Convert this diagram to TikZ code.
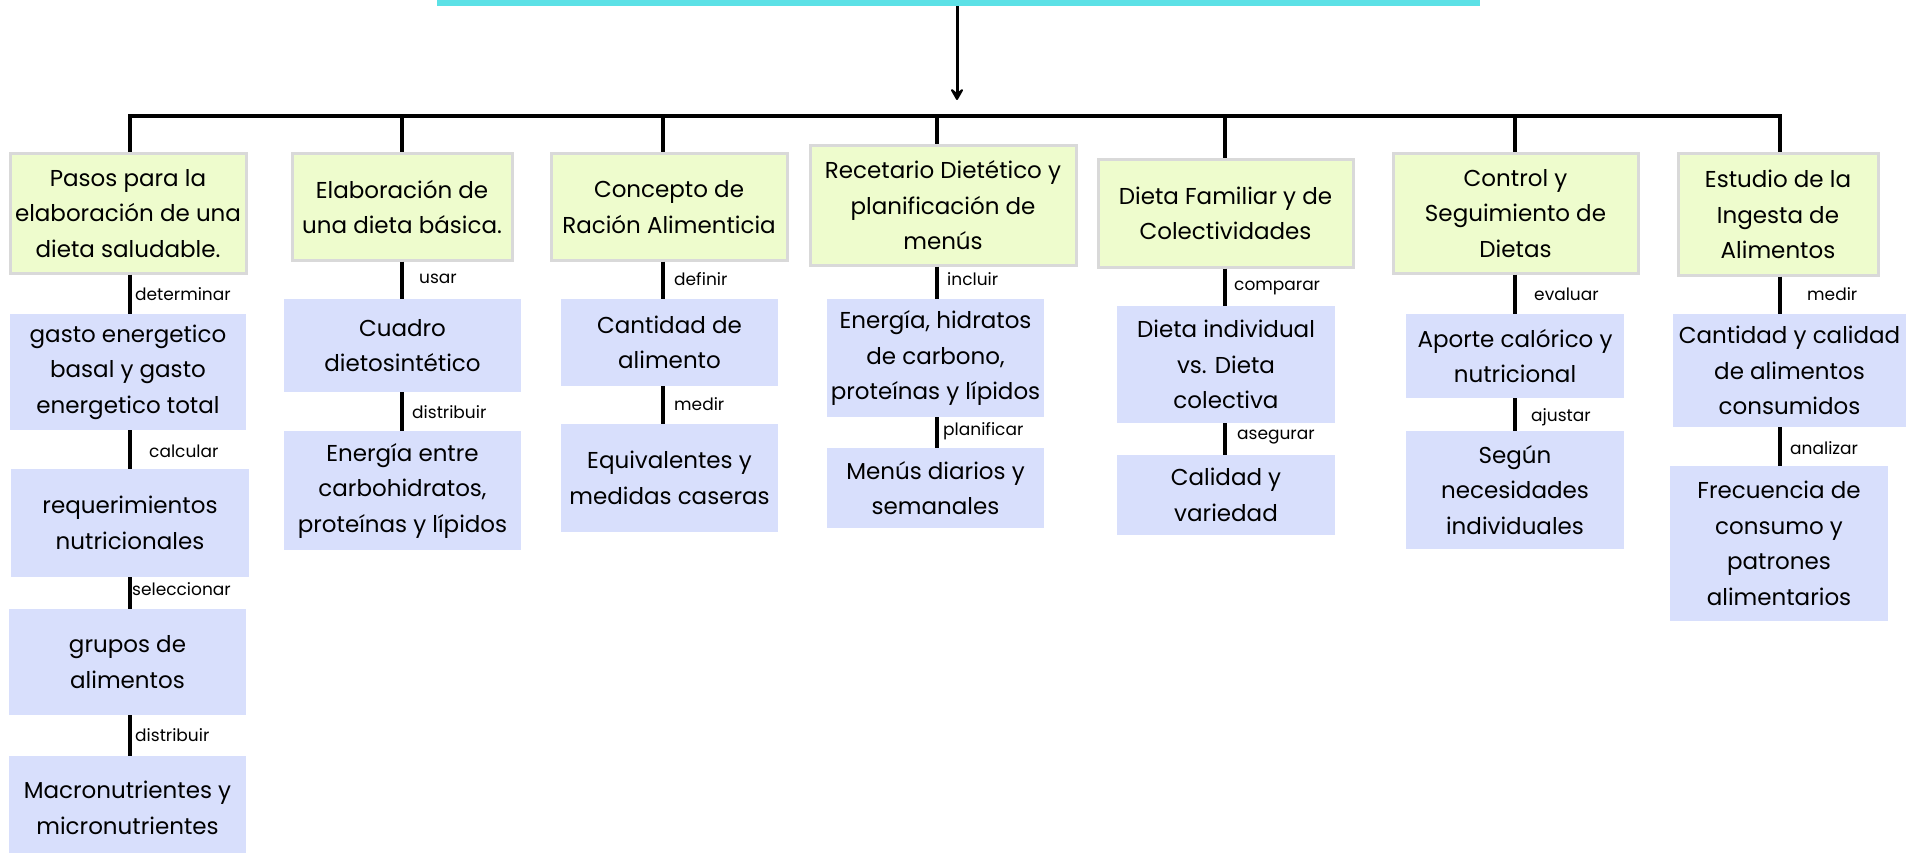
\documentclass[tikz,border=0pt]{standalone}
\usepackage{fontspec}
\setmainfont{Poppins}
\usetikzlibrary{arrows.meta}
\definecolor{gfill}{RGB}{238,252,205}
\definecolor{gborder}{RGB}{217,217,217}
\definecolor{bfill}{RGB}{216,223,252}
\definecolor{cyanbar}{RGB}{92,225,230}
\tikzset{
  gbox/.style={draw=gborder, line width=3pt, fill=gfill, align=center, inner sep=2pt,
    font=\fontsize{23}{35.5}\selectfont},
  bbox/.style={fill=bfill, align=center, inner sep=2pt,
    font=\fontsize{23}{35.5}\selectfont},
  lab/.style={anchor=west, inner sep=0pt, font=\fontsize{17}{20}\selectfont},
  conn/.style={line width=3.5pt},
  hbar/.style={line width=4pt, line cap=rect},
}
\begin{document}
\begin{tikzpicture}[x=1pt,y=-1pt]
\useasboundingbox (0,0) rectangle (1921,853);
% title bar and arrow
\node[fill=cyanbar, minimum width=1043pt, minimum height=14pt, inner sep=0pt] (title) at (958.5,-1) {};
\coordinate (tip) at (957,100);
\draw[line width=3pt, -{Stealth[length=15pt,width=17pt,inset=7pt,round]}] (title.south -| tip) -- (tip);
% bar
\coordinate (t1) at (130,116);
\coordinate (t2) at (402,116);
\coordinate (t3) at (663,116);
\coordinate (t4) at (937,116);
\coordinate (t5) at (1225,116);
\coordinate (t6) at (1515,116);
\coordinate (t7) at (1780,116);
\draw[hbar] (t1) -- (t7);

% column 1
\node[gbox, minimum width=236pt, minimum height=119pt] (G1) at (128,213.5) {Pasos para la\\elaboración de una\\dieta saludable.};
\node[bbox, minimum width=236pt, minimum height=116pt] (B1a) at (128,372) {gasto energetico\\basal y gasto\\energetico total};
\node[bbox, minimum width=238pt, minimum height=108pt] (B1b) at (130,523) {requerimientos\\nutricionales};
\node[bbox, minimum width=237pt, minimum height=106pt] (B1c) at (127.5,662) {grupos de\\alimentos};
\node[bbox, minimum width=237pt, minimum height=104pt] (B1d) at (127.5,808) {Macronutrientes y\\micronutrientes};
\draw[conn] (t1) -- (t1 |- G1.north);
\draw[conn] (G1.south -| t1) -- (B1a.north -| t1);
\draw[conn] (B1a.south -| t1) -- (B1b.north -| t1);
\draw[conn] (B1b.south -| t1) -- (B1c.north -| t1);
\draw[conn] (B1c.south -| t1) -- (B1d.north -| t1);
\node[lab] (L1a) at (135,294) {determinar};
\node[lab] (L1b) at (149,451) {calcular};
\node[lab] (L1c) at (132,589) {seleccionar};
\node[lab] (L1d) at (135,735) {distribuir};

% column 2
\node[gbox, minimum width=220pt, minimum height=106pt] (G2) at (402,207) {Elaboración de\\una dieta básica.};
\node[bbox, minimum width=237pt, minimum height=93pt] (B2a) at (402.5,345.5) {Cuadro\\dietosintético};
\node[bbox, minimum width=237pt, minimum height=119pt] (B2b) at (402.5,490.5) {Energía entre\\carbohidratos,\\proteínas y lípidos};
\draw[conn] (t2) -- (t2 |- G2.north);
\draw[conn] (G2.south -| t2) -- (B2a.north -| t2);
\draw[conn] (B2a.south -| t2) -- (B2b.north -| t2);
\node[lab] (L2a) at (419,279) {usar};
\node[lab] (L2b) at (412,412) {distribuir};

% column 3
\node[gbox, minimum width=236pt, minimum height=106pt] (G3) at (669,207) {Concepto de\\Ración Alimenticia};
\node[bbox, minimum width=217pt, minimum height=87pt] (B3a) at (669.5,342.5) {Cantidad de\\alimento};
\node[bbox, minimum width=217pt, minimum height=108pt] (B3b) at (669.5,478) {Equivalentes y\\medidas caseras};
\draw[conn] (t3) -- (t3 |- G3.north);
\draw[conn] (G3.south -| t3) -- (B3a.north -| t3);
\draw[conn] (B3a.south -| t3) -- (B3b.north -| t3);
\node[lab] (L3a) at (674,279) {definir};
\node[lab] (L3b) at (674,404) {medir};

% column 4
\node[gbox, minimum width=266pt, minimum height=119pt] (G4) at (943,205.5) {Recetario Dietético y\\planificación de\\menús};
\node[bbox, minimum width=217pt, minimum height=118pt] (B4a) at (935.5,358) {Energía, hidratos\\de carbono,\\proteínas y lípidos};
\node[bbox, minimum width=217pt, minimum height=80pt] (B4b) at (935.5,488) {Menús diarios y\\semanales};
\draw[conn] (t4) -- (t4 |- G4.north);
\draw[conn] (G4.south -| t4) -- (B4a.north -| t4);
\draw[conn] (B4a.south -| t4) -- (B4b.north -| t4);
\node[lab] (L4a) at (947,279) {incluir};
\node[lab] (L4b) at (943,431) {planificar};

% column 5
\node[gbox, minimum width=255pt, minimum height=107pt] (G5) at (1225.5,213.5) {Dieta Familiar y de\\Colectividades};
\node[bbox, minimum width=218pt, minimum height=117pt] (B5a) at (1226,364.5) {Dieta individual\\vs. Dieta\\colectiva};
\node[bbox, minimum width=218pt, minimum height=80pt] (B5b) at (1226,495) {Calidad y\\variedad};
\draw[conn] (t5) -- (t5 |- G5.north);
\draw[conn] (G5.south -| t5) -- (B5a.north -| t5);
\draw[conn] (B5a.south -| t5) -- (B5b.north -| t5);
\node[lab] (L5a) at (1234,288) {comparar};
\node[lab] (L5b) at (1237,437) {asegurar};

% column 6
\node[gbox, minimum width=245pt, minimum height=119pt] (G6) at (1515.5,213.5) {Control y\\Seguimiento de\\Dietas};
\node[bbox, minimum width=218pt, minimum height=84pt] (B6a) at (1515,356) {Aporte calórico y\\nutricional};
\node[bbox, minimum width=218pt, minimum height=118pt] (B6b) at (1515,490) {Según\\necesidades\\individuales};
\draw[conn] (t6) -- (t6 |- G6.north);
\draw[conn] (G6.south -| t6) -- (B6a.north -| t6);
\draw[conn] (B6a.south -| t6) -- (B6b.north -| t6);
\node[lab] (L6a) at (1534,294) {evaluar};
\node[lab] (L6b) at (1531,417) {ajustar};

% column 7
\node[gbox, minimum width=200pt, minimum height=121pt] (G7) at (1778,214.5) {Estudio de la\\Ingesta de\\Alimentos};
\node[bbox, minimum width=233pt, minimum height=113pt] (B7a) at (1789.5,370.5) {Cantidad y calidad\\de alimentos\\consumidos};
\node[bbox, minimum width=218pt, minimum height=155pt] (B7b) at (1779,543.5) {Frecuencia de\\consumo y\\patrones\\alimentarios};
\draw[conn] (t7) -- (t7 |- G7.north);
\draw[conn] (G7.south -| t7) -- (B7a.north -| t7);
\draw[conn] (B7a.south -| t7) -- (B7b.north -| t7);
\node[lab] (L7a) at (1807,294) {medir};
\node[lab] (L7b) at (1790,448) {analizar};
\end{tikzpicture}
\end{document}
